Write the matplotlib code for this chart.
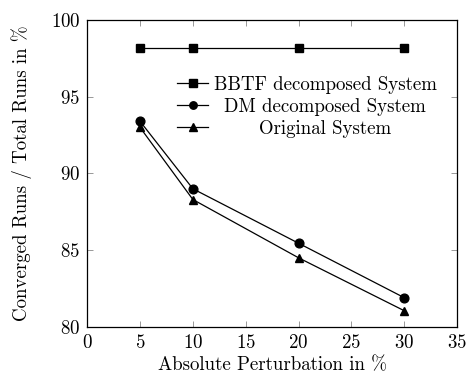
import matplotlib
matplotlib.use("Agg")
import matplotlib.pyplot as plt
from matplotlib.transforms import Affine2D

plt.rcParams['font.family'] = 'serif'
plt.rcParams['font.serif'] = ['cmr10']
plt.rcParams['mathtext.fontset'] = 'cm'
plt.rcParams['axes.formatter.use_mathtext'] = True
plt.rcParams['font.size'] = 13.6

perturbation = [5, 10, 20, 30]
bbtf = [98.2, 98.2, 98.2, 98.2]
dm = [93.4, 89.0, 85.45, 81.9]
original = [93.0, 88.3, 84.5, 81.05]

fig = plt.figure(figsize=(4.66, 3.77), dpi=100)
ax = fig.add_axes([0.187, 0.133, 0.794, 0.814])

lw = 0.9
ax.plot(perturbation, bbtf, color='black', lw=lw, marker='s', markersize=6,
        label='BBTF decomposed System')
ax.plot(perturbation, dm, color='black', lw=lw, marker='o', markersize=6.3,
        label='DM decomposed System')
ax.plot(perturbation, original, color='black', lw=lw, marker='^', markersize=6,
        label='Original System')

ax.set_xlim(0, 35)
ax.set_ylim(80, 100)
ax.set_xticks(range(0, 36, 5))
ax.set_yticks(range(80, 101, 5))
ax.tick_params(direction='in', top=True, right=True, length=4, width=0.6,
               color='#888888', pad=5)
for s in ax.spines.values():
    s.set_linewidth(0.9)

ax.set_xlabel('Absolute Perturbation in %')
ax.set_ylabel('Converged Runs / Total Runs in %')
ax.xaxis.set_label_coords(0.5, -0.095)
ax.yaxis.set_label_coords(-0.148, 0.5)

leg = ax.legend(loc='center left', bbox_to_anchor=(0.243, 0.717), frameon=False,
                handlelength=1.65, handletextpad=0.3, labelspacing=0.2,
                borderaxespad=0, borderpad=0, markerscale=0.85)

# centre the legend labels like pgfplots does
fig.canvas.draw()
r = fig.canvas.get_renderer()
widths = [t.get_window_extent(r).width for t in leg.get_texts()]
wmax = max(widths)
for t, w in zip(leg.get_texts(), widths):
    t.set_transform(t.get_transform() + Affine2D().translate((wmax - w) / 2, 0))

fig.savefig('out.png', dpi=100)
